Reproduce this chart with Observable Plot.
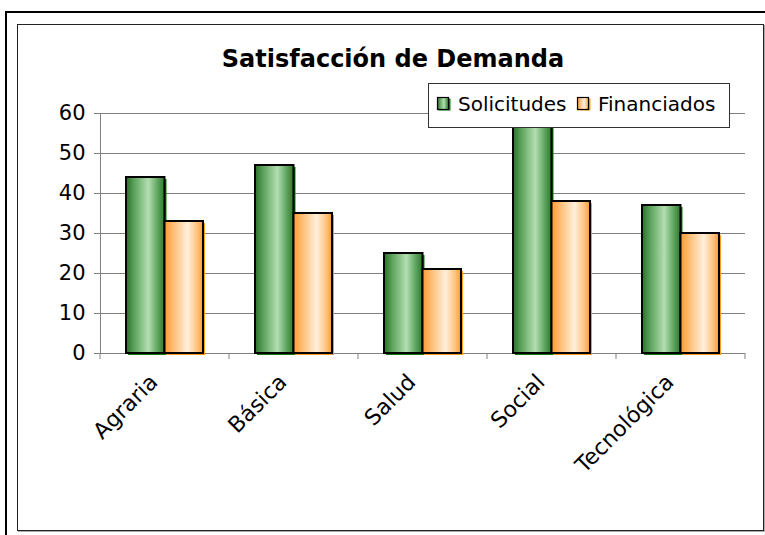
<!DOCTYPE html>
<html>
<head>
<meta charset="utf-8">
<script src="https://cdn.jsdelivr.net/npm/d3@7"></script>
<script src="https://cdn.jsdelivr.net/npm/@observablehq/plot@0.6"></script>
<style>
  html, body { margin: 0; padding: 0; background: #fff; overflow: hidden; }
  #wrap { position: relative; width: 765px; height: 535px; overflow: hidden; }
  #outer { position: absolute; left: 5px; top: 11px; width: 900px; height: 700px; border: 2px solid #000; }
  #inner { position: absolute; left: 17px; top: 24px; width: 745px; height: 505px; border: 1px solid #222; box-shadow: 1px 1px 0 #aaa; }
  #chart { position: absolute; left: 0; top: 0; }
</style>
</head>
<body>
<div id="wrap">
  <div id="outer"></div>
  <div id="inner"></div>
  <div id="chart"></div>
</div>
<script>
const title = "Satisfacción de Demanda";
const categories = ["Agraria", "Básica", "Salud", "Social", "Tecnológica"];
const seriesNames = ["Solicitudes", "Financiados"];
const solicitudes = [44, 47, 25, 60, 37];
const financiados = [33, 35, 21, 38, 30];
const yTicks = [0, 10, 20, 30, 40, 50, 60];

const rows = categories.map((c, i) => ({cat: c, sol: solicitudes[i], fin: financiados[i]}));

const W = 765, H = 535;
const mL = 100, mR = 20, mT = 113, mB = 182;
const step = (W - mL - mR) / categories.length;
const barW = 38.5;
const outer = step / 2 - barW;

const plot = Plot.plot({
  width: W,
  height: H,
  marginLeft: mL,
  marginRight: mR,
  marginTop: mT,
  marginBottom: mB,
  style: {fontFamily: "'DejaVu Sans', sans-serif", fontSize: "21px", color: "#000", background: "transparent", overflow: "visible"},
  x: {type: "band", domain: categories, padding: 0, label: null},
  y: {domain: [0, 60], label: null},
  marks: [
    Plot.ruleY(yTicks.slice(1), {stroke: "#808080", strokeWidth: 1, strokeOpacity: 1}),
    Plot.frame({anchor: "left", stroke: "#808080", strokeOpacity: 1}),
    Plot.ruleY([0], {stroke: "#808080", strokeWidth: 1, strokeOpacity: 1}),
    // shadows
    Plot.barY(rows, {x: "cat", y: "sol", fill: "#0a7a0a", insetLeft: outer, insetRight: step / 2, dx: 2, dy: 2}),
    Plot.barY(rows, {x: "cat", y: "fin", fill: "#ff9a1a", insetLeft: step / 2, insetRight: outer, dx: 2, dy: 2}),
    // bars
    Plot.barY(rows, {x: "cat", y: "sol", fill: "url(#gradGreen)", stroke: "#000", strokeWidth: 2, insetLeft: outer, insetRight: step / 2}),
    Plot.barY(rows, {x: "cat", y: "fin", fill: "url(#gradOrange)", stroke: "#000", strokeWidth: 2, insetLeft: step / 2, insetRight: outer}),
    Plot.axisY({ticks: yTicks, tickSize: 6, tickPadding: 9, stroke: "#808080", fontSize: 21, tickFormat: d => String(d)}),
    Plot.axisX({tickSize: 0, tickRotate: -45, tickPadding: 25, fontSize: 22, dx: -11})
  ]
});

document.getElementById("chart").appendChild(plot);

const svg = d3.select(plot);
const defs = svg.insert("defs", ":first-child");
function grad(id, stops) {
  const g = defs.append("linearGradient").attr("id", id).attr("x1", "0").attr("x2", "1").attr("y1", "0").attr("y2", "0");
  stops.forEach(([o, c]) => g.append("stop").attr("offset", o).attr("stop-color", c));
}
grad("gradGreen", [[0, "#2a6e2a"], [0.2, "#58a058"], [0.58, "#b4deb2"], [0.82, "#5fa55f"], [1, "#2c7a2c"]]);
grad("gradOrange", [[0, "#ff9a2e"], [0.25, "#ffc07a"], [0.6, "#fff0dc"], [0.85, "#ffc27e"], [1, "#ff9a2e"]]);

// boundary tick marks on the category axis
const xs = plot.scale("x");
const ys = plot.scale("y");
const y0 = ys.apply(0);
const bounds = categories.map(c => xs.apply(c)).concat([xs.apply(categories[categories.length - 1]) + xs.bandwidth]);
svg.append("g").selectAll("line").data(bounds).join("line")
  .attr("x1", d => d).attr("x2", d => d)
  .attr("y1", y0).attr("y2", y0 + 6)
  .attr("stroke", "#808080");

// title
svg.append("text")
  .attr("x", 393).attr("y", 67)
  .attr("text-anchor", "middle")
  .attr("font-family", "'DejaVu Sans', sans-serif")
  .attr("font-weight", "bold")
  .attr("font-size", 24)
  .attr("fill", "#000")
  .text(title);

// legend
const lg = svg.append("g").attr("text-anchor", "start");
lg.append("rect").attr("x", 428.5).attr("y", 83.5).attr("width", 301).attr("height", 44)
  .attr("fill", "#fff").attr("stroke", "#333");
const legendX = [437, 577];
const swFill = ["url(#gradGreen)", "url(#gradOrange)"];
const swShadow = ["#0a7a0a", "#ff9a1a"];
seriesNames.forEach((s, i) => {
  lg.append("rect").attr("x", legendX[i] + 1.5).attr("y", 98.5).attr("width", 12).attr("height", 12).attr("fill", swShadow[i]);
  lg.append("rect").attr("x", legendX[i] + 0.5).attr("y", 97.5).attr("width", 11).attr("height", 12)
    .attr("fill", swFill[i]).attr("stroke", "#000").attr("stroke-width", 1.2);
  lg.append("text").attr("x", legendX[i] + 21).attr("y", 111)
    .attr("text-anchor", "start")
    .attr("font-family", "'DejaVu Sans', sans-serif").attr("font-size", 20).attr("fill", "#000")
    .text(s);
});
</script>
</body>
</html>
